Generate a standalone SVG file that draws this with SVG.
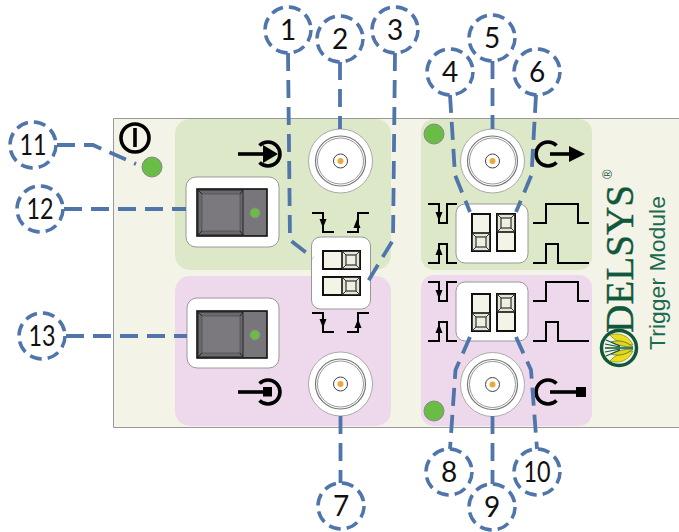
<svg xmlns="http://www.w3.org/2000/svg" width="679" height="532" viewBox="0 0 679 532">
<style>
.num{font-family:"Lato","Open Sans","Liberation Sans",sans-serif;font-size:28px;fill:#111;text-anchor:middle}
.bub{fill:none;stroke:#4f75ab;stroke-width:3.5;stroke-dasharray:12 6.1}
.lead{fill:none;stroke:#4f75ab;stroke-width:3.8;stroke-dasharray:18 9}
.sig{fill:none;stroke:#000;stroke-width:2}
.ico{fill:none;stroke:#000;stroke-width:3.6}
.wht{fill:#fff;stroke:#999;stroke-width:1}
.led{fill:#69bd45;stroke:#888;stroke-width:1}
.sw{fill:#78767a;stroke:#111;stroke-width:1.6}
.dipb{fill:#f3f3e7;stroke:#111;stroke-width:2}
</style>
<defs>
<g id="bnc">
<circle r="32" fill="#fff" stroke="#aaa"/>
<circle r="25" fill="#fff" stroke="#777" stroke-width="1.2"/>
<circle r="23" fill="#fff" stroke="#999" stroke-width="1"/>
<circle r="7" fill="#fff" stroke="#444" stroke-width="1"/>
<circle r="3" fill="#e9a93b"/>
</g>
<g id="knob">
<rect x="0" y="0" width="18" height="18" fill="#e6e6d8" stroke="#111" stroke-width="1.6"/>
<rect x="4" y="4" width="10" height="10" fill="#eeeee2" stroke="#333" stroke-width="1.2"/>
<path d="M0 0L4 4M18 0L14 4M0 18L4 14M18 18L14 14" stroke="#333" stroke-width="1" fill="none"/>
</g>
<g id="switch">
<rect x="0" y="0" width="70" height="47" class="sw"/>
<rect x="1" y="1" width="45" height="45" fill="#6b696d" stroke="#222" stroke-width="1"/>
<rect x="5" y="5" width="38" height="37" fill="#7b797d" stroke="#444" stroke-width=".6"/>
<path d="M1 1L5 5M46 1L43 5M1 46L5 42M46 46L43 42" stroke="#222" stroke-width="1" fill="none"/>
<circle cx="58" cy="24" r="5" class="led"/>
</g>
<path id="fall" d="M0 0H11V19H22" class="sig"/>
<path id="rise" d="M0 19H11V0H22" class="sig"/>
</defs>
<rect width="679" height="532" fill="#fff"/>
<g id="panel">
<path d="M679 118.500H113.500V427.500H679" fill="#f3f3e7" stroke="#999" stroke-width="1"/>
<rect x="175" y="119" width="216" height="151" rx="15" fill="#dde8c8"/>
<rect x="175" y="276" width="216" height="150" rx="15" fill="#eed9ec"/>
<rect x="421" y="119" width="171" height="151" rx="13" fill="#dde8c8"/>
<rect x="421" y="275" width="171" height="151" rx="13" fill="#eed9ec"/>
</g>
<g id="power">
<circle cx="135" cy="138" r="14" class="ico"/>
<path d="M135 128V147" class="ico"/>
<circle cx="152" cy="167" r="10" class="led"/>
</g>
<g id="switch12">
<rect x="186" y="177" width="93" height="70" rx="10" class="wht"/>
<use href="#switch" x="197" y="189"/>
</g>
<g id="switch13">
<rect x="187" y="298" width="92" height="70" rx="10" class="wht"/>
<use href="#switch" x="197" y="311"/>
</g>
<g id="bnc-in"><use href="#bnc" x="340.500" y="161"/></g>
<g id="bnc-stop"><use href="#bnc" x="340.500" y="384"/></g>
<g id="bnc-out"><use href="#bnc" x="492.500" y="161"/></g>
<g id="bnc-outstop"><use href="#bnc" x="492.500" y="384.500"/></g>
<g id="led-out"><circle cx="434" cy="134" r="10" class="led"/><circle cx="434" cy="411" r="10" class="led"/></g>
<g id="icon-in">
<path d="M238 154H268" class="ico"/>
<path d="M259.500 145.500A12 12 0 1 1 259.500 162.500" class="ico"/>
<path d="M263 145L278 154L263 163Z" fill="#000"/>
</g>
<g id="icon-stop">
<path d="M238 392H266" class="ico"/>
<path d="M259.500 383.500A12 12 0 1 1 259.500 400.500" class="ico"/>
<rect x="263" y="387" width="9" height="9.500" fill="#000"/>
</g>
<g id="icon-out">
<path d="M550 154H572" class="ico"/>
<path d="M556.500 145.500A12 12 0 1 0 556.500 162.500" class="ico"/>
<path d="M569 146L585 154L569 162Z" fill="#000"/>
</g>
<g id="icon-outstop">
<path d="M550 392H577" class="ico"/>
<path d="M556.500 383.500A12 12 0 1 0 556.500 400.500" class="ico"/>
<rect x="576" y="387" width="10" height="10" fill="#000"/>
</g>
<g id="signals-left">
<use href="#fall" x="312" y="213"/><use href="#rise" x="347" y="213"/>
<use href="#fall" x="312" y="313"/><use href="#rise" x="347" y="313"/>
<path d="M319.500 219H326.500L323 228ZM353.500 228H360.500L357 219Z" fill="#000"/>
<path d="M319.500 319H326.500L323 328ZM354.500 328H361.500L358 319Z" fill="#000"/>
</g>
<g id="signals-right">
<path d="M428 204H439V223H447V204H457M428 263H439V244H447V263H457M533 223H546V204H578V223H589M533 263H546V244H558V263H589" class="sig"/>
<path d="M428 282H439V301H447V282H457M428 341H439V322H447V341H457M533 301H546V282H578V301H589M533 341H546V322H558V341H589" class="sig"/>
<path d="M435.500 212H442.500L439 221ZM435.500 255H442.500L439 246ZM435.500 290H442.500L439 299ZM435.500 333H442.500L439 324Z" fill="#000"/>
</g>
<g id="dip-center">
<rect x="311.500" y="237" width="59" height="72" rx="9" class="wht"/>
<rect x="323" y="251" width="37" height="18" class="dipb"/><use href="#knob" x="342" y="251"/>
<rect x="323" y="277" width="37" height="18" class="dipb"/><use href="#knob" x="342" y="277"/>
</g>
<g id="dip-top">
<rect x="456" y="204" width="72" height="59" rx="9" class="wht"/>
<rect x="472" y="214" width="18" height="37" class="dipb"/><use href="#knob" x="472" y="233"/>
<rect x="497" y="214" width="18" height="37" class="dipb"/><use href="#knob" x="497" y="214"/>
</g>
<g id="dip-bottom">
<rect x="456" y="282" width="72" height="59" rx="9" class="wht"/>
<rect x="472" y="294" width="18" height="37" class="dipb"/><use href="#knob" x="472" y="313"/>
<rect x="497" y="294" width="18" height="37" class="dipb"/><use href="#knob" x="497" y="294"/>
</g>
<g id="logo">
<text transform="translate(633 333) rotate(-90)" font-family="Liberation Serif,serif" font-size="40" fill="#11573b" stroke="#11573b" stroke-width=".4" textLength="148" lengthAdjust="spacingAndGlyphs">DELSYS</text>
<text transform="translate(612 179) rotate(-90)" font-family="Liberation Sans,sans-serif" font-size="13" fill="#11573b">®</text>
<text transform="translate(665 350) rotate(-90)" font-family="Liberation Sans,sans-serif" font-size="22" fill="#1c6a50" textLength="154" lengthAdjust="spacingAndGlyphs">Trigger Module</text>
<g id="emblem" transform="translate(619 348)">
<circle r="17.500" fill="#f3f3e7" stroke="#11573b" stroke-width="3.500"/>
<path d="M14 -3C8 -15 -2 -15 -9 -13C-4 -7 3 -4 14 -3ZM14 3C8 15 -2 15 -9 13C-4 7 3 4 14 3Z" fill="#ecdc1c" stroke="#6b7a1a" stroke-width=".6"/>
<path d="M14 -1C6 -8 -2 -8 -8 -6C-3 -3 5 -1 14 -1ZM14 1C6 8 -2 8 -8 6C-3 3 5 1 14 1Z" fill="#e3d31a" stroke="#11573b" stroke-width=".6"/>
<path d="M-14 0L14 0" stroke="#11573b" stroke-width="1.500"/>
<path d="M-13 -8L1 -2M-13 8L1 2M-14 -4L1 -1M-14 4L1 1" stroke="#11573b" stroke-width="1.200"/>
</g>
</g>
<g id="connectors">
<path class="lead" d="M288 53L290 240L313 258"/>
<path class="lead" d="M340 62V129"/>
<path class="lead" d="M395 53L393 240L367 283"/>
<path class="lead" d="M450 95L455 175L470 212"/>
<path class="lead" d="M492.500 61V129"/>
<path class="lead" d="M536 95L531.500 175L516 212"/>
<path class="lead" d="M340.500 416V483"/>
<path class="lead" d="M470 337L455.500 370L450 449"/>
<path class="lead" d="M492.500 416V484"/>
<path class="lead" d="M516 337L531 370L537 449"/>
<path class="lead" d="M57 145H93L136 164"/>
<path class="lead" d="M64 209H186"/>
<path class="lead" d="M66 336H187"/>
</g>
<g id="n1"><circle cx="288" cy="30" r="23" class="bub"/><text x="288" y="40" class="num">1</text></g>
<g id="n2"><circle cx="340" cy="39" r="23" class="bub"/><text x="340" y="49" class="num">2</text></g>
<g id="n3"><circle cx="395" cy="30" r="23" class="bub"/><text x="395" y="40" class="num">3</text></g>
<g id="n4"><circle cx="450" cy="72" r="23" class="bub"/><text x="450" y="82" class="num">4</text></g>
<g id="n5"><circle cx="492" cy="38" r="23" class="bub"/><text x="492" y="48" class="num">5</text></g>
<g id="n6"><circle cx="537" cy="72" r="23" class="bub"/><text x="537" y="82" class="num">6</text></g>
<g id="n7"><circle cx="341" cy="506" r="23" class="bub"/><text x="341" y="516" class="num">7</text></g>
<g id="n8"><circle cx="449" cy="472" r="23" class="bub"/><text x="449" y="482" class="num">8</text></g>
<g id="n9"><circle cx="492" cy="507" r="23" class="bub"/><text x="492" y="517" class="num">9</text></g>
<g id="n10"><circle cx="537" cy="472" r="23" class="bub"/><text x="537" y="482" class="num" textLength="27" lengthAdjust="spacingAndGlyphs">10</text></g>
<g id="n11"><circle cx="33" cy="145" r="23" class="bub"/><text x="33" y="155" class="num" textLength="27" lengthAdjust="spacingAndGlyphs">11</text></g>
<g id="n12"><circle cx="40" cy="209" r="23" class="bub"/><text x="40" y="219" class="num" textLength="27" lengthAdjust="spacingAndGlyphs">12</text></g>
<g id="n13"><circle cx="42" cy="336" r="23" class="bub"/><text x="42" y="346" class="num" textLength="27" lengthAdjust="spacingAndGlyphs">13</text></g>
</svg>
